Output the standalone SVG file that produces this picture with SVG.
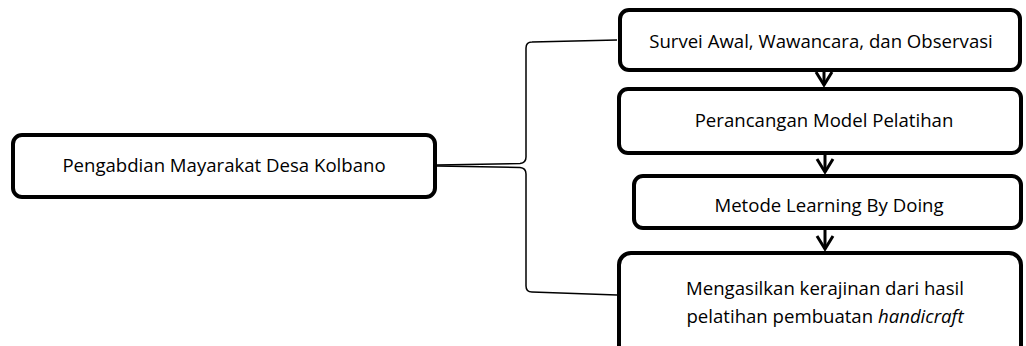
<svg xmlns="http://www.w3.org/2000/svg" width="1026" height="346" viewBox="0 0 1026 346">
<defs>
<style>
.box{fill:#fff;stroke:#000;stroke-width:4}
.t{font-family:"Open Sans","Liberation Sans",sans-serif;font-size:18.6px;fill:#000;text-anchor:middle}
.con{fill:none;stroke:#000;stroke-width:1.5}
.arr{fill:none;stroke:#000;stroke-width:3}
</style>
<marker id="v" markerWidth="16" markerHeight="20" refX="14" refY="10" orient="auto" markerUnits="userSpaceOnUse" viewBox="0 0 16 20">
<path d="M1 2 L14 10 L1 18" fill="none" stroke="#000" stroke-width="3"/>
</marker>
</defs>
<rect width="1026" height="346" fill="#fff"/>
<g id="connectors">
<path class="con" d="M437 165 L520 163.5 Q526 163 526 157 L526 48 Q526 42 532 42 L617 40"/>
<path class="con" d="M437 166 L520 167.5 Q526 168 526 174 L526 286 Q526 292 532 292 L617 295"/>
<line class="arr" x1="824" y1="70" x2="824" y2="85" marker-end="url(#v)"/>
<line class="arr" x1="825" y1="153" x2="825" y2="172" marker-end="url(#v)"/>
<line class="arr" x1="825" y1="228" x2="825" y2="249" marker-end="url(#v)"/>
</g>
<g id="n0">
<rect class="box" x="13" y="135" width="422" height="62" rx="9"/>
<text class="t" x="224" y="172">Pengabdian Mayarakat Desa Kolbano</text>
</g>
<g id="n1">
<rect class="box" x="620" y="10" width="400" height="60" rx="9"/>
<text class="t" x="821" y="48">Survei Awal, Wawancara, dan Observasi</text>
</g>
<g id="n2">
<rect class="box" x="619" y="89" width="402" height="64" rx="9"/>
<text class="t" x="824" y="127">Perancangan Model Pelatihan</text>
</g>
<g id="n3">
<rect class="box" x="634" y="176" width="387" height="52" rx="9"/>
<text class="t" x="829" y="212">Metode Learning By Doing</text>
</g>
<g id="n4">
<rect class="box" x="619" y="253" width="402" height="110" rx="12"/>
<text class="t" x="825" y="295">Mengasilkan kerajinan dari hasil</text>
<text class="t" x="825" y="323">pelatihan pembuatan <tspan font-style="italic">handicraft</tspan></text>
</g>
</svg>
